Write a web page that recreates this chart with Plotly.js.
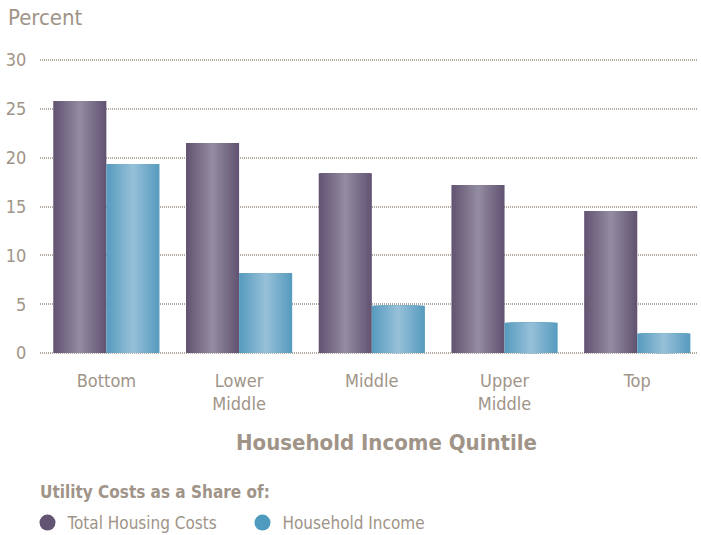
<!DOCTYPE html>
<html><head><meta charset="utf-8">
<script src="https://cdn.plot.ly/plotly-3.0.1.min.js"></script>
<style>html,body{margin:0;padding:0;background:#fff}#c{width:701px;height:535px}</style>
</head><body><div id="c"></div>
<script>
var categories = ["Bottom", "Lower<br>Middle", "Middle", "Upper<br>Middle", "Top"];
var totalHousingShare = [25.8, 21.5, 18.4, 17.2, 14.55];
var householdIncomeShare = [19.35, 8.2, 4.85, 3.1, 2.0];
var seriesNames = ["Total Housing Costs", "Household Income"];
var legendTitle = "Utility Costs as a Share of:";
var yTicks = [0, 5, 10, 15, 20, 25, 30];

var FONT = "DejaVu Sans Condensed, Liberation Sans Narrow, sans-serif";
var TXT = "#a09488";

function mix(a, b, t) {
  var r = Math.round(a[0] + (b[0] - a[0]) * t);
  var g = Math.round(a[1] + (b[1] - a[1]) * t);
  var bl = Math.round(a[2] + (b[2] - a[2]) * t);
  return "rgb(" + r + "," + g + "," + bl + ")";
}

var xIdx = categories.map(function (_, i) { return i; });
var traces = [];
var BAR_W = 0.4;
var N = 18;
function addSeries(values, center, dark, light) {
  for (var k = 0; k < N; k++) {
    var w = BAR_W * (1 - k / N);
    traces.push({
      type: "bar", x: xIdx, y: values,
      width: w, offset: center - w / 2,
      marker: { color: mix(dark, light, k / (N - 1)), line: { width: 0 } },
      showlegend: false, hoverinfo: "skip"
    });
  }
}
addSeries(totalHousingShare, -0.2, [99, 84, 114], [146, 139, 161]);
addSeries(householdIncomeShare, 0.2, [88, 156, 191], [150, 191, 216]);

traces.push({ type: "scatter", mode: "markers", x: [null], y: [null], name: seriesNames[0],
  marker: { symbol: "circle", size: 16, color: "#625472" } });
traces.push({ type: "scatter", mode: "markers", x: [null], y: [null], name: seriesNames[1],
  marker: { symbol: "circle", size: 16, color: "#4f9bbf" } });

var PT = 55.1, PB = 176.6, PH = 535 - PT - PB;
var layout = {
  width: 701, height: 535,
  margin: { l: 40, r: 4, t: PT, b: PB },
  paper_bgcolor: "#fff", plot_bgcolor: "#fff",
  barmode: "overlay",
  font: { family: FONT, color: TXT, size: 17 },
  xaxis: {
    range: [-0.5, 4.45],
    tickmode: "array", tickvals: xIdx, ticktext: categories,
    showgrid: false, zeroline: false, showline: false,
    ticks: "outside", ticklen: 6, tickcolor: "rgba(0,0,0,0)",
    tickfont: { family: FONT, size: 18, color: TXT }
  },
  yaxis: {
    range: [-0.5, 30.5],
    tickmode: "array", tickvals: yTicks,
    showgrid: true, gridcolor: "#b3aaa0", griddash: "1px,1px", gridwidth: 2,
    zeroline: false, showline: false,
    ticks: "outside", ticklen: 9, tickcolor: "rgba(0,0,0,0)",
    tickfont: { family: FONT, size: 18, color: TXT }
  },
  showlegend: true,
  legend: {
    orientation: "h",
    xref: "container", yref: "container",
    x: 27.5 / 701, y: 1 - 523 / 535, xanchor: "left", yanchor: "middle",
    font: { family: FONT, size: 17, color: TXT },
    entrywidth: 170, itemwidth: 30
  },
  annotations: [
    { text: "Percent", xref: "paper", yref: "paper", x: -40 / 657, y: 1 + PT / PH,
      xanchor: "left", yanchor: "top", xshift: 6, yshift: -3, showarrow: false,
      font: { family: FONT, size: 22, color: TXT } },
    { text: "<b>Household Income Quintile</b>", xref: "paper", yref: "paper",
      x: (386 - 40) / 657, y: -(443 - (535 - PB)) / PH, xanchor: "center", yanchor: "middle",
      showarrow: false, font: { family: FONT, size: 22, color: TXT } },
    { text: "<b>" + legendTitle + "</b>", xref: "paper", yref: "paper",
      x: 0, y: -(493 - (535 - PB)) / PH, xanchor: "left", yanchor: "middle", xshift: -2,
      showarrow: false, font: { family: FONT, size: 17, color: TXT } }
  ]
};

Plotly.newPlot("c", traces, layout, { displayModeBar: false, staticPlot: true });
</script></body></html>
